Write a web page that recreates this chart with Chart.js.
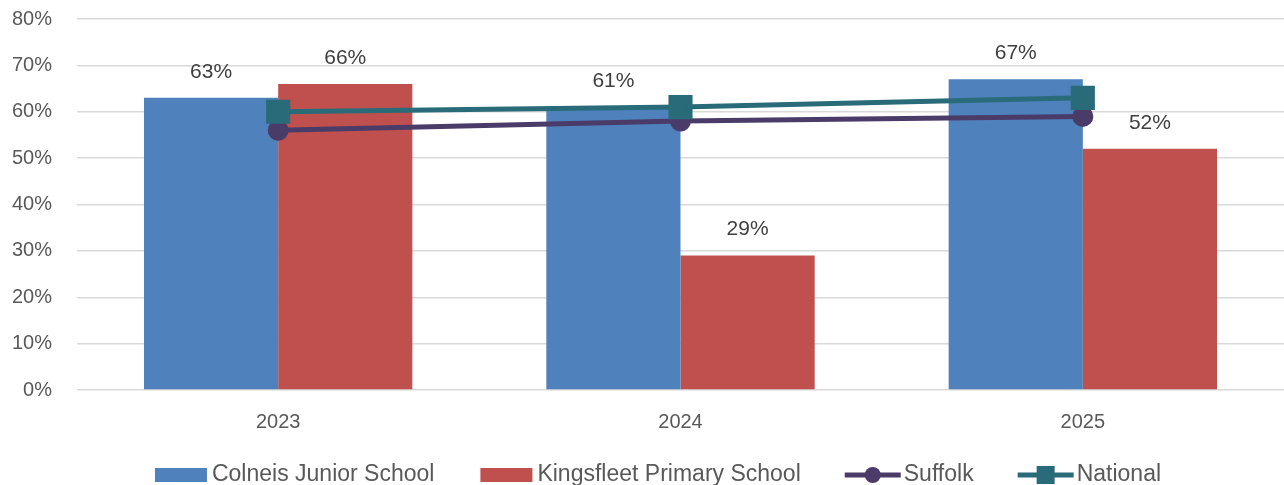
<!DOCTYPE html>
<html>
<head>
<meta charset="utf-8">
<script src="https://cdn.jsdelivr.net/npm/chart.js@4.4.1/dist/chart.umd.min.js"></script>
<style>
  html, body { margin: 0; padding: 0; background: #fff; overflow: hidden; }
  #wrap { width: 1284px; height: 485px; }
</style>
</head>
<body>
<div id="wrap"><canvas id="chart"></canvas></div>
<script>
// Chart data
const years = ['2023', '2024', '2025'];
const colneis = [63, 61, 67];
const kingsfleet = [66, 29, 52];
const suffolk = [56, 58, 59];
const national = [60, 61, 63];
const yTicks = [0, 10, 20, 30, 40, 50, 60, 70, 80];

const FONT = '"Liberation Sans", Arial, sans-serif';
const BLUE = '#4F81BD';
const RED = '#C0504D';
const PURPLE = '#4A3B69';
const TEAL = '#2A6B79';

// Percent labels above bars only
const barLabels = {
  id: 'barLabels',
  afterDatasetsDraw(chart) {
    const ctx = chart.ctx;
    ctx.save();
    ctx.font = '21px ' + FONT;
    ctx.fillStyle = '#404040';
    ctx.textAlign = 'center';
    ctx.textBaseline = 'middle';
    chart.data.datasets.forEach((ds, i) => {
      if (ds.type !== 'bar') return;
      chart.getDatasetMeta(i).data.forEach((bar, j) => {
        ctx.fillText(ds.data[j] + '%', bar.x, bar.y - 26);
      });
    });
    ctx.restore();
  }
};

// Legend drawn by hand so box/marker spacing matches the original
const bottomLegend = {
  id: 'bottomLegend',
  afterDraw(chart) {
    const ctx = chart.ctx;
    const items = [
      { text: 'Colneis Junior School', kind: 'box', color: BLUE },
      { text: 'Kingsfleet Primary School', kind: 'box', color: RED },
      { text: 'Suffolk', kind: 'circle', color: PURPLE },
      { text: 'National', kind: 'square', color: TEAL }
    ];
    const y = 475;
    const symW = 56;
    const gapText = 3;
    const gapItem = 44;
    ctx.save();
    ctx.font = '23px ' + FONT;
    ctx.textBaseline = 'middle';
    let total = 0;
    items.forEach((it, i) => {
      it.w = ctx.measureText(it.text).width;
      total += symW + gapText + it.w + (i ? gapItem : 0);
    });
    let x = chart.width / 2 + 15 - total / 2;
    items.forEach(it => {
      ctx.fillStyle = it.color;
      ctx.strokeStyle = it.color;
      if (it.kind === 'box') {
        ctx.fillRect(x + 2, y - 7, 52, 14);
      } else {
        ctx.lineWidth = 5;
        ctx.beginPath();
        ctx.moveTo(x, y);
        ctx.lineTo(x + symW, y);
        ctx.stroke();
        if (it.kind === 'circle') {
          ctx.beginPath();
          ctx.arc(x + symW / 2, y, 8, 0, Math.PI * 2);
          ctx.fill();
        } else {
          ctx.fillRect(x + symW / 2 - 9, y - 9, 18, 18);
        }
      }
      ctx.fillStyle = '#595959';
      ctx.textAlign = 'left';
      ctx.fillText(it.text, x + symW + gapText, y);
      x += symW + gapText + it.w + gapItem;
    });
    ctx.restore();
  }
};

new Chart(document.getElementById('chart'), {
  data: {
    labels: years,
    datasets: [
      {
        type: 'line',
        label: 'National',
        data: national,
        borderColor: TEAL,
        backgroundColor: TEAL,
        borderWidth: 5,
        pointStyle: 'rect',
        pointRadius: 13.5,
        pointHoverRadius: 13.5,
        order: 0
      },
      {
        type: 'line',
        label: 'Suffolk',
        data: suffolk,
        borderColor: PURPLE,
        backgroundColor: PURPLE,
        borderWidth: 5,
        pointStyle: 'circle',
        pointRadius: 8,
        pointHoverRadius: 8,
        order: 1
      },
      {
        type: 'bar',
        label: 'Colneis Junior School',
        data: colneis,
        backgroundColor: BLUE,
        categoryPercentage: 0.667,
        barPercentage: 1,
        order: 2
      },
      {
        type: 'bar',
        label: 'Kingsfleet Primary School',
        data: kingsfleet,
        backgroundColor: RED,
        categoryPercentage: 0.667,
        barPercentage: 1,
        order: 2
      }
    ]
  },
  options: {
    responsive: true,
    maintainAspectRatio: false,
    animation: false,
    layout: { autoPadding: false, padding: { left: 8, top: 19, right: 0, bottom: 52 } },
    plugins: {
      legend: { display: false },
      tooltip: { enabled: false }
    },
    scales: {
      x: {
        grid: { display: false, drawTicks: false },
        border: { display: false },
        ticks: { color: '#595959', font: { family: FONT, size: 20 }, padding: 20 },
        afterFit(scale) {
          scale.height = 43;
          scale.paddingLeft = 0;
          scale.paddingRight = 0;
        }
      },
      y: {
        min: 0,
        max: 80,
        afterBuildTicks(scale) {
          scale.ticks = yTicks.map(v => ({ value: v }));
        },
        afterFit(scale) {
          scale.width = 69;
          scale.paddingTop = 0;
          scale.paddingBottom = 0;
        },
        grid: { color: '#D9D9D9', lineWidth: 1.5, drawTicks: false },
        border: { display: false },
        ticks: {
          color: '#595959',
          font: { family: FONT, size: 20 },
          padding: 25,
          callback: v => v + '%'
        }
      }
    }
  },
  plugins: [barLabels, bottomLegend]
});
</script>
</body>
</html>
